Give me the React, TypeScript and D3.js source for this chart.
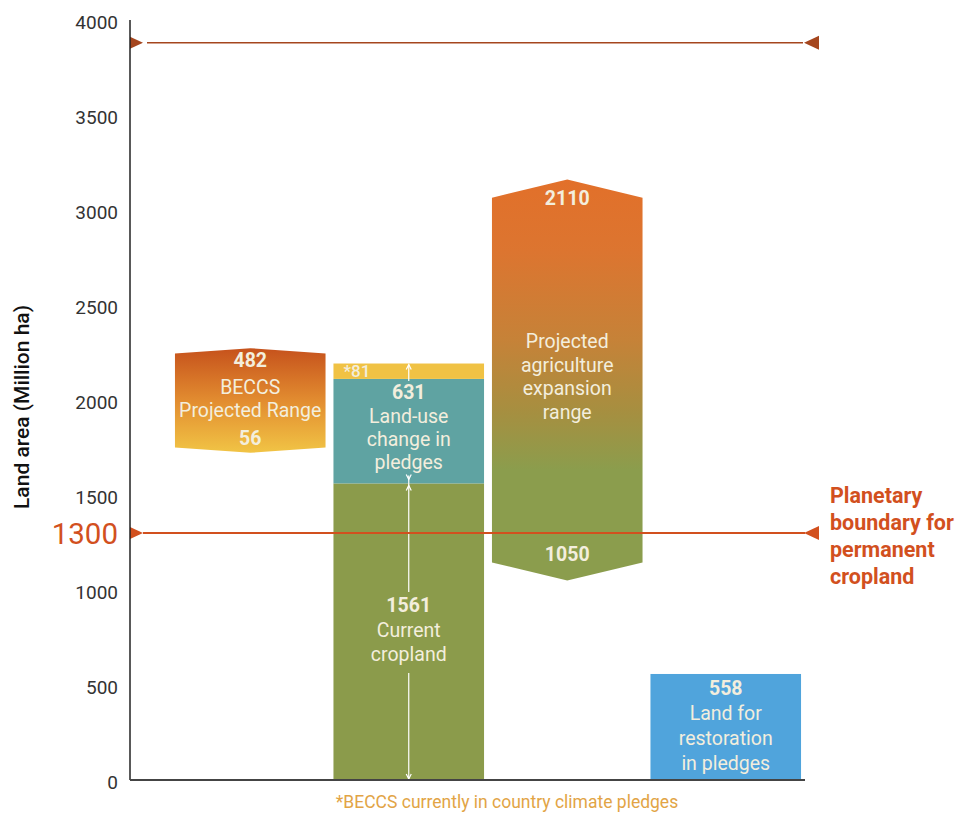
import React from "react";
import * as d3 from "d3";

const categories = ["BECCS", "Pledges", "Agriculture", "Restoration"];
const yTicks = [0, 500, 1000, 1500, 2000, 2500, 3000, 3500, 4000];

// stacked pledges bar
const currentCropland = 1561;
const landUseChange = 631;
const beccsInPledges = 81;

// range bars (low, high, chevron depth)
const beccsRange = { low: 1722, high: 2273, notch: 28, lowLabel: "56", highLabel: "482" };
const agriRange = { low: 1050, high: 3160, notch: 95, lowLabel: "1050", highLabel: "2110" };

const restoration = 558;
const boundary = 1300;
const topLine = 3880;

const W = 962;
const H = 814;

const y = d3.scaleLinear().domain([0, 4000]).range([780, 20]);
const x = d3.scaleBand<string>().domain(categories).range([171, 805]).paddingInner(0.05).paddingOuter(0.025);

const TXT = "#F3EEDD";
const FONT = "Roboto, 'Liberation Sans', sans-serif";
const FS = 19.5;

function chevronPath(cat: string, r: { low: number; high: number; notch: number }) {
  const x0 = x(cat)!;
  const x1 = x0 + x.bandwidth();
  const xm = (x0 + x1) / 2;
  const p = d3.path();
  p.moveTo(x0, y(r.high - r.notch));
  p.lineTo(xm, y(r.high));
  p.lineTo(x1, y(r.high - r.notch));
  p.lineTo(x1, y(r.low + r.notch));
  p.lineTo(xm, y(r.low));
  p.lineTo(x0, y(r.low + r.notch));
  p.closePath();
  return p.toString();
}

function Lines({ cx, ys, lines, size = FS, boldFirst = false }: { cx: number; ys: number[]; lines: string[]; size?: number; boldFirst?: boolean }) {
  return (
    <g>
      {lines.map((l, i) => (
        <text key={i} x={cx} y={ys[i]} textAnchor="middle" dominantBaseline="middle" fill={TXT}
          fontSize={size} fontWeight={boldFirst && i === 0 ? 700 : 400} fontFamily={FONT}>{l}</text>
      ))}
    </g>
  );
}

export default function App() {
  const bw = x.bandwidth();
  const bx = x("BECCS")!;
  const px = x("Pledges")!;
  const ax = x("Agriculture")!;
  const rx = x("Restoration")!;
  const pcx = px + bw / 2;
  const tealTop = currentCropland + landUseChange - beccsInPledges;
  const stackTop = currentCropland + landUseChange;

  const rightTri = (yy: number, x0: number) => `M${x0},${yy - 6}L${x0 + 13},${yy}L${x0},${yy + 6}Z`;
  const leftTri = (yy: number, x0: number) => `M${x0},${yy}L${x0 + 15},${yy - 7}L${x0 + 15},${yy + 7}Z`;

  const arrowUp = (xx: number, yy: number) => `M${xx - 2.5},${yy + 5}L${xx},${yy}L${xx + 2.5},${yy + 5}`;
  const arrowDown = (xx: number, yy: number) => `M${xx - 2.5},${yy - 5}L${xx},${yy}L${xx + 2.5},${yy - 5}`;

  return (
    <svg width={W} height={H} style={{ position: "absolute", left: 0, top: 0, background: "#fff" }} fontFamily={FONT}>
      <defs>
        <linearGradient id="gBeccs" gradientUnits="userSpaceOnUse" x1={0} x2={0} y1={y(beccsRange.high)} y2={y(beccsRange.low)}>
          <stop offset="0" stopColor="#C6521C" />
          <stop offset="0.5" stopColor="#E28C30" />
          <stop offset="1" stopColor="#F1C445" />
        </linearGradient>
        <linearGradient id="gAgri" gradientUnits="userSpaceOnUse" x1={0} x2={0} y1={y(agriRange.high)} y2={470}>
          <stop offset="0" stopColor="#E2702A" />
          <stop offset="0.25" stopColor="#DC7530" />
          <stop offset="0.55" stopColor="#C68238" />
          <stop offset="0.8" stopColor="#A68F40" />
          <stop offset="1" stopColor="#8B9D4D" />
        </linearGradient>
      </defs>

      {/* y tick labels */}
      {yTicks.map((t) => (
        <text key={t} x={118} y={y(t) + 4} textAnchor="end" dominantBaseline="middle" fontSize={19} fill="#333" fontFamily={FONT}>{t}</text>
      ))}
      <text x={118} y={y(boundary) + 3} textAnchor="end" dominantBaseline="middle" fontSize={29.5} fill="#D2501E" fontFamily={FONT}>{boundary}</text>
      <text transform={`translate(23,407) rotate(-90)`} textAnchor="middle" dominantBaseline="middle" fontSize={21} fontWeight={500} fill="#111" fontFamily={FONT}>Land area (Million ha)</text>

      {/* BECCS range */}
      <path d={chevronPath("BECCS", beccsRange)} fill="url(#gBeccs)" />
      <Lines cx={bx + bw / 2} ys={[y(beccsRange.high) + 14, 389, 412]} lines={[beccsRange.highLabel, "BECCS", "Projected Range"]} boldFirst />
      <text x={bx + bw / 2} y={440} textAnchor="middle" dominantBaseline="middle" fill={TXT} fontSize={FS} fontWeight={700}>{beccsRange.lowLabel}</text>

      {/* Pledges stacked */}
      <rect x={px} y={y(currentCropland)} width={bw} height={y(0) - y(currentCropland)} fill="#8B9B4B" />
      <rect x={px} y={y(tealTop)} width={bw} height={y(currentCropland) - y(tealTop)} fill="#5FA3A2" />
      <rect x={px} y={y(stackTop)} width={bw} height={y(tealTop) - y(stackTop)} fill="#F0C244" />
      <text x={px + 10} y={(y(stackTop) + y(tealTop)) / 2 + 1} dominantBaseline="middle" fill={TXT} fontSize={17} fontWeight={500}>*{beccsInPledges}</text>
      <Lines cx={pcx} ys={[394, 418, 441, 464]} lines={[String(landUseChange), "Land-use", "change in", "pledges"]} boldFirst />
      <Lines cx={pcx} ys={[607, 632, 656]} lines={[String(currentCropland), "Current", "cropland"]} boldFirst />
      <g stroke="#fff" strokeWidth={1.2} fill="none">
        <line x1={pcx} x2={pcx} y1={y(stackTop) + 1} y2={y(tealTop) + 2} />
        <path d={arrowUp(pcx, y(stackTop) + 1)} />
        <line x1={pcx} x2={pcx} y1={y(currentCropland) - 8} y2={592} />
        <path d={arrowDown(pcx, y(currentCropland) - 4)} />
        <path d={arrowUp(pcx, y(currentCropland) + 2)} />
        <line x1={pcx} x2={pcx} y1={673} y2={y(0)} />
        <path d={arrowDown(pcx, y(0) - 1)} />
      </g>

      {/* Agriculture range */}
      <path d={chevronPath("Agriculture", agriRange)} fill="url(#gAgri)" />
      <text x={ax + bw / 2} y={y(agriRange.high) + 20} textAnchor="middle" dominantBaseline="middle" fill={TXT} fontSize={FS} fontWeight={700}>{agriRange.highLabel}</text>
      <Lines cx={ax + bw / 2} ys={[343, 367, 390, 414]} lines={["Projected", "agriculture", "expansion", "range"]} />
      <text x={ax + bw / 2} y={556} textAnchor="middle" dominantBaseline="middle" fill={TXT} fontSize={FS} fontWeight={700}>{agriRange.lowLabel}</text>

      {/* Restoration */}
      <rect x={rx} y={y(restoration)} width={bw} height={y(0) - y(restoration)} fill="#50A4DC" />
      <Lines cx={rx + bw / 2} ys={[690, 715, 740, 765]} lines={[String(restoration), "Land for", "restoration", "in pledges"]} boldFirst />

      {/* top reference line */}
      <line x1={147} x2={803} y1={y(topLine)} y2={y(topLine)} stroke="#A5461E" strokeWidth={1.5} />
      <path d={rightTri(y(topLine), 130)} fill="#A5461E" />
      <path d={leftTri(y(topLine), 804)} fill="#A5461E" />

      {/* boundary line */}
      <line x1={143} x2={805} y1={y(boundary)} y2={y(boundary)} stroke="#D2501E" strokeWidth={2.2} />
      <path d={rightTri(y(boundary), 130)} fill="#D2501E" />
      <path d={leftTri(y(boundary), 804)} fill="#D2501E" />
      {["Planetary", "boundary for", "permanent", "cropland"].map((l, i) => (
        <text key={l} x={830} y={497 + i * 27} dominantBaseline="middle" fontSize={21.5} fontWeight={700} fill="#D2501E">{l}</text>
      ))}

      {/* axes */}
      <line x1={130} x2={130} y1={y(4000)} y2={y(0)} stroke="#222" strokeWidth={1.5} />
      <line x1={130} x2={805} y1={y(0)} y2={y(0)} stroke="#444" strokeWidth={2} />

      <text x={507} y={803} textAnchor="middle" dominantBaseline="middle" fontSize={17.5} fill="#E2A445">*BECCS currently in country climate pledges</text>
    </svg>
  );
}
